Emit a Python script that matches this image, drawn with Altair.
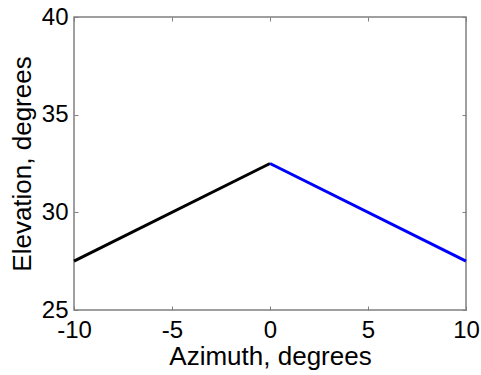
import altair as alt
import pandas as pd

# Two line segments meeting at zero azimuth
azimuth_left = [-10, 0]
elevation_left = [27.5, 32.5]
azimuth_right = [0, 10]
elevation_right = [32.5, 27.5]

x_ticks = [-10, -5, 0, 5, 10]
y_ticks = [25, 30, 35, 40]

left = pd.DataFrame({"az": azimuth_left, "el": elevation_left})
right = pd.DataFrame({"az": azimuth_right, "el": elevation_right})

FONT = "Liberation Sans"
TICK = 4
PLAIN = "datum.value + ''"  # ASCII hyphen for negatives

x_scale = alt.Scale(domain=[-10, 10], nice=False, zero=False)
y_scale = alt.Scale(domain=[25, 40], nice=False, zero=False)

x_bottom = alt.Axis(
    values=x_ticks, orient="bottom", offset=-TICK, tickSize=TICK, domain=False,
    grid=False, labelFontSize=24, labelPadding=8, labelColor="black",
    tickColor="#808080", title="Azimuth, degrees", titleFontSize=26,
    titleFontWeight="normal", titleColor="black", titlePadding=1,
    labelFont=FONT, titleFont=FONT, labelFlush=False, labelExpr=PLAIN,
)
y_left = alt.Axis(
    values=y_ticks, orient="left", offset=-TICK, tickSize=TICK, domain=False,
    grid=False, labelFontSize=24, labelPadding=6, labelColor="black",
    tickColor="#808080", title="Elevation, degrees", titleFontSize=26,
    titleFontWeight="normal", titleColor="black", titlePadding=6,
    labelFont=FONT, titleFont=FONT, labelFlush=False, labelExpr=PLAIN,
)
x_top = alt.Axis(
    values=x_ticks, orient="top", offset=-TICK, tickSize=TICK, domain=False,
    grid=False, labels=False, title=None, tickColor="#808080",
)
y_right = alt.Axis(
    values=y_ticks, orient="right", offset=-TICK, tickSize=TICK, domain=False,
    grid=False, labels=False, title=None, tickColor="#808080",
)

black_line = alt.Chart(left).mark_line(color="black", strokeWidth=3).encode(
    x=alt.X("az:Q", scale=x_scale, axis=x_bottom),
    y=alt.Y("el:Q", scale=y_scale, axis=y_left),
)
blue_line = alt.Chart(right).mark_line(color="#0000ff", strokeWidth=3).encode(
    x=alt.X("az:Q", scale=x_scale, axis=x_top),
    y=alt.Y("el:Q", scale=y_scale, axis=y_right),
)

chart = (
    alt.layer(black_line, blue_line)
    .resolve_axis(x="independent", y="independent")
    .properties(
        width=392,
        height=293,
        autosize=alt.AutoSizeParams(type="none"),
        padding={"left": 74, "top": 17, "right": 15, "bottom": 65},
        background="white",
    )
    .configure_view(stroke="#808080", strokeWidth=1.5)
)

chart.save("out.html", embed_options={"renderer": "svg", "actions": False})
